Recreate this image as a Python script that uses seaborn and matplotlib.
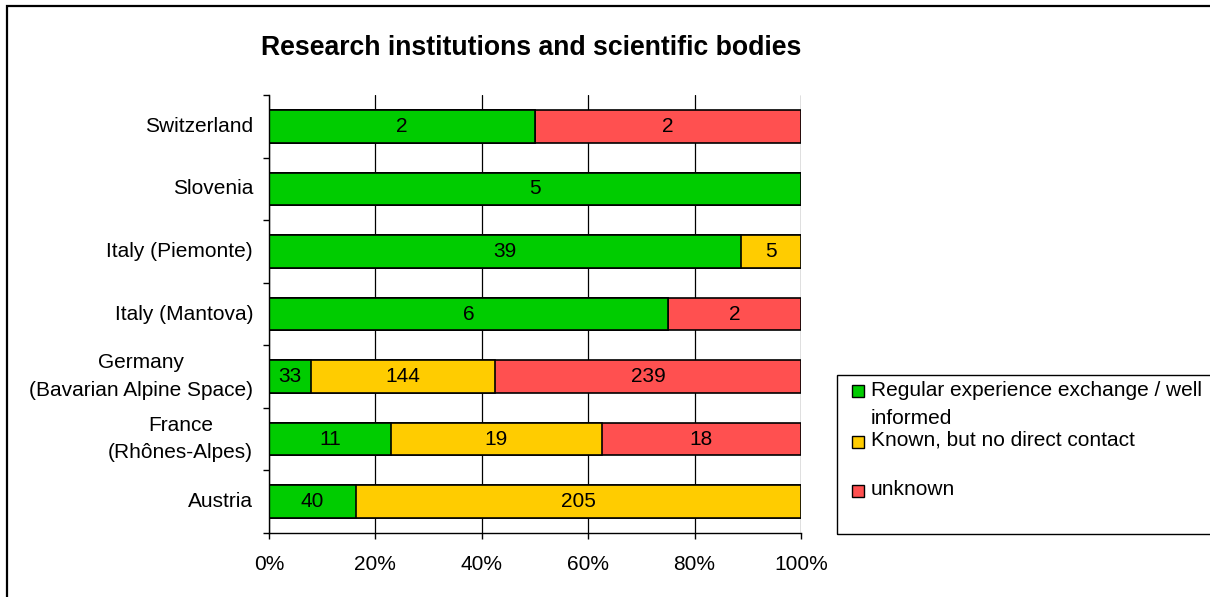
import numpy as np
import pandas as pd
import matplotlib
matplotlib.use("Agg")
import matplotlib.pyplot as plt
import seaborn as sns
from matplotlib.patches import Rectangle

# ---------------- data ----------------
regions = ["Switzerland", "Slovenia", "Italy (Piemonte)", "Italy (Mantova)",
           "Germany\n(Bavarian Alpine Space)", "France\n(Rhônes-Alpes)", "Austria"]
regular = [2, 5, 39, 6, 33, 11, 40]
known = [0, 0, 5, 0, 144, 19, 205]
unknown = [2, 0, 0, 2, 239, 18, 0]
series_labels = ["Regular experience exchange / well\ninformed",
                 "Known, but no direct contact",
                 "unknown"]
colors = ["#00CC00", "#FFCC00", "#FF5050"]
xticks = [0, 20, 40, 60, 80, 100]
xtick_labels = ["0%", "20%", "40%", "60%", "80%", "100%"]
title = "Research institutions and scientific bodies"

# ---------------- style ----------------
sns.set_theme(style="white")
plt.rcParams["font.family"] = ["Liberation Sans", "DejaVu Sans"]
for k in ["text.color", "axes.labelcolor", "xtick.color", "ytick.color"]:
    plt.rcParams[k] = "black"

W, H = 1210, 597
fig = plt.figure(figsize=(W / 100, H / 100), dpi=100)
fig.patch.set_facecolor("white")

def fx(px):
    return px / W

def fy(py):
    return 1 - py / H

ax = fig.add_axes([fx(269), fy(533), fx(801) - fx(269), fy(95) - fy(533)])

df = pd.DataFrame({"region": regions, "regular": regular,
                   "known": known, "unknown": unknown})
tot = df[["regular", "known", "unknown"]].sum(axis=1)
df["p_reg"] = df["regular"] / tot * 100
df["p_known"] = df["known"] / tot * 100
df["p_unk"] = df["unknown"] / tot * 100
df["c1"] = df["p_reg"]
df["c2"] = df["p_reg"] + df["p_known"]
df["c3"] = df["c2"] + df["p_unk"]

for col, c in zip(["c3", "c2", "c1"], colors[::-1]):
    sns.barplot(data=df, x=col, y="region", order=regions, color=c,
                saturation=1, edgecolor="black", linewidth=1.2,
                width=0.52, ax=ax, zorder=3)

# segment labels
for i, row in df.iterrows():
    starts = [0, row["c1"], row["c2"]]
    widths = [row["p_reg"], row["p_known"], row["p_unk"]]
    vals = [row["regular"], row["known"], row["unknown"]]
    for s, w, v in zip(starts, widths, vals):
        if v > 0:
            ax.text(s + w / 2, i, str(v), ha="center", va="center",
                    fontsize=15, color="black", zorder=5)

ax.set_xlim(0, 100)
ax.set_ylim(len(regions) - 0.5, -0.5)
ax.set_xlabel("")
ax.set_ylabel("")
ax.set_xticks(xticks)
ax.set_xticklabels(xtick_labels, fontsize=15)
ax.set_yticks(range(len(regions)))
ax.set_yticklabels(regions, fontsize=15)
for t in ax.get_yticklabels():
    t.set_multialignment("center")
    t.set_linespacing(1.55)
    t.set_verticalalignment("center")
ax.set_yticks(np.arange(-0.5, len(regions), 1.0), minor=True)
ax.tick_params(axis="y", which="major", length=0, pad=11.5)
ax.tick_params(axis="y", which="minor", length=4, width=1, color="black",
               direction="out", left=True)
ax.tick_params(axis="x", which="major", length=4, width=1, color="black",
               direction="out", bottom=True, pad=12)

ax.xaxis.grid(True, color="black", linewidth=0.9)
ax.yaxis.grid(False)
ax.set_axisbelow(True)
for s in ["top", "right"]:
    ax.spines[s].set_visible(False)
for s in ["left", "bottom"]:
    ax.spines[s].set_color("black")
    ax.spines[s].set_linewidth(1.0)
    ax.spines[s].set_zorder(6)

# title
fig.text(fx(531.5), fy(48), title, ha="center", va="center",
         fontsize=19.2, fontweight="bold")

# legend (drawn box extends past right edge as in the reference)
fig.patches.append(Rectangle((fx(837), fy(534)), 1.0, fy(375) - fy(534),
                             transform=fig.transFigure, fill=False,
                             edgecolor="black", linewidth=1.0))
leg_top = [381, 431, 480]          # top of first text line
leg_square_centers = [391, 442, 491]
for lab, c, yt, yc in zip(series_labels, colors, leg_top, leg_square_centers):
    fig.patches.append(Rectangle((fx(852), fy(yc + 6)), fx(864) - fx(852),
                                 fy(yc - 6) - fy(yc + 6),
                                 transform=fig.transFigure, facecolor=c,
                                 edgecolor="black", linewidth=1.0))
    fig.text(fx(871), fy(yt), lab, ha="left", va="top", fontsize=15,
             linespacing=1.6)

# outer frame
fig.patches.append(Rectangle((fx(7), -0.2), 2.0, fy(6) + 0.2,
                             transform=fig.transFigure, fill=False,
                             edgecolor="black", linewidth=1.6))

fig.savefig("out.png", dpi=100)
